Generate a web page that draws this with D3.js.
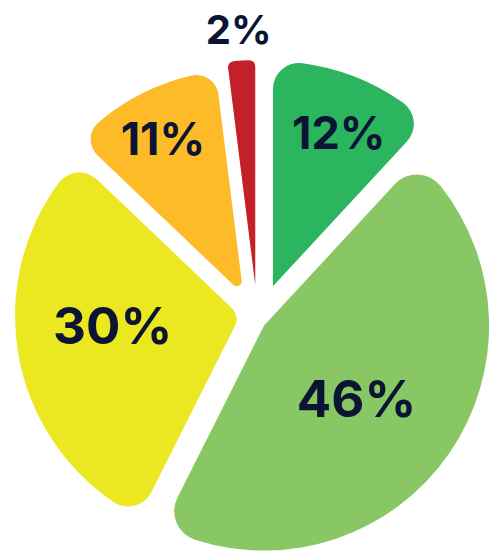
<!DOCTYPE html>
<html>
<head>
<meta charset="utf-8">
<script src="https://cdn.jsdelivr.net/npm/d3@7"></script>
<style>
  html, body { margin: 0; padding: 0; background: #ffffff; overflow: hidden; }
  svg { display: block; }
</style>
</head>
<body>
<svg id="chart" width="489" height="555"></svg>
<script>
// ---- data ----
const categories = ["Segment A", "Segment B", "Segment C", "Segment D", "Segment E"];
const values = [12, 46, 30, 11, 2];
const labels = ["12%", "46%", "30%", "11%", "2%"];

// ---- style ----
const colors = ["#2bb55f", "#88c763", "#ebe822", "#fdbb28", "#c42029"];
const explode = [38, 8, 18.2, 30, 36];        // offset of each slice (px)
const explodeTurn = [2.6, 0, 26, -1.3, 0];    // direction of the offset, degrees from the mid-angle
const cornerR = [26, 30, 26, 22, 6];          // outer corner rounding
const apexR = [0, 0, 15, 5, 0];               // rounding of the inner (apex) corner
const labelPos = [0.744, 0.524, 0.568, 0.779, 1.14]; // label distance as a fraction of radius
const labelTurn = [1.8, 3.6, 5.3, -0.6, -0.15];       // label direction, degrees from the mid-angle
const fontSizes = [45, 51, 51, 45, 40];
const textColor = "#0b1533";

const width = 489, height = 555;
const cx = 257.5, cy = 321, R = 225;
const rad = Math.PI / 180;

const svg = d3.select("#chart");
const g = svg.append("g").attr("transform", `translate(${cx},${cy})`);

const pie = d3.pie().sort(null).value(v => v);
const arcsData = pie(values);

const slice = g.selectAll("g.slice")
  .data(arcsData)
  .join("g")
  .attr("class", "slice")
  .attr("transform", (d, i) => {
    const a = (d.startAngle + d.endAngle) / 2 + explodeTurn[i] * rad;
    return `translate(${Math.sin(a) * explode[i]},${-Math.cos(a) * explode[i]})`;
  });

slice.append("path")
  .attr("fill", (d, i) => colors[i])
  .attr("d", (d, i) => {
    const theta = d.endAngle - d.startAngle;
    const kc = 1 / Math.sin(theta / 2);
    const r0 = apexR[i] > 0 ? apexR[i] * (kc - 1) : 0;
    return d3.arc()
      .innerRadius(r0)
      .outerRadius(R)
      .cornerRadius(Math.max(cornerR[i], apexR[i]))(d);
  });

slice.append("text")
  .attr("x", (d, i) => Math.sin((d.startAngle + d.endAngle) / 2 + labelTurn[i] * rad) * R * labelPos[i])
  .attr("y", (d, i) => -Math.cos((d.startAngle + d.endAngle) / 2 + labelTurn[i] * rad) * R * labelPos[i])
  .attr("dy", "0.36em")
  .attr("text-anchor", "middle")
  .attr("font-family", "Inter, 'Noto Sans', sans-serif")
  .attr("font-weight", 700)
  .attr("font-size", (d, i) => fontSizes[i])
  .attr("fill", textColor)
  .text((d, i) => labels[i]);
</script>
</body>
</html>
